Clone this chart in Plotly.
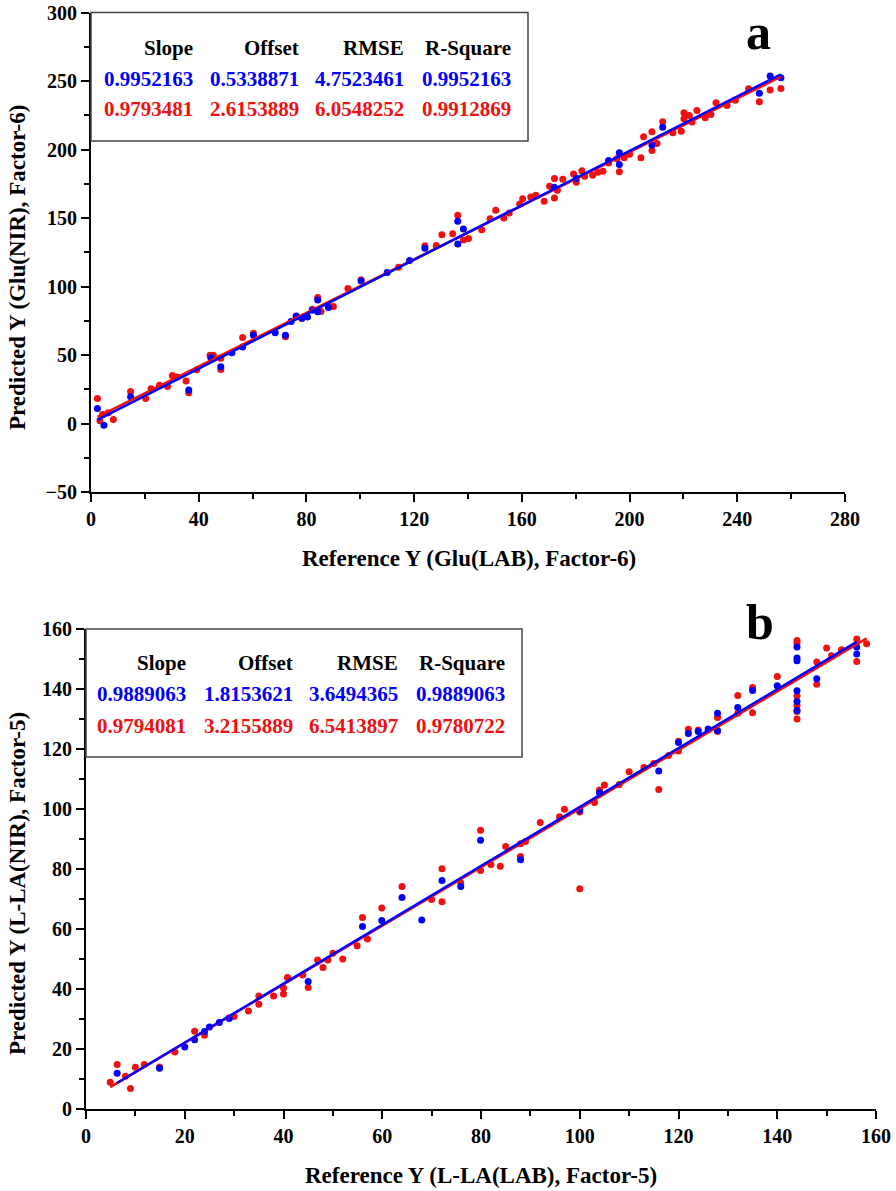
import numpy as np
import plotly.graph_objects as go

# ---------------- data: panel a (Glu) ----------------
a_red_x = [2.4, 3.3, 4.3, 6.4, 8.3, 14.7, 20.3, 22.3, 25.4, 28.4, 30.2, 32, 35.3, 36.3, 39.3, 44.2, 45.4, 48.2, 48.2,
           56.3, 60.3, 72.2, 76.2, 78.3, 82.2, 84.2, 85.4, 88.2, 90, 95.4, 100.3, 114.2, 124, 128.2, 130.3, 134.3,
           136.2, 138.3, 140.2, 145.1, 148.2, 150.3, 153.3, 155.3, 159.2, 160.3, 163.3, 165.2, 168.3, 170.3, 172.1,
           172.1, 173.2, 175.2, 179.2, 180.2, 182.3, 183.3, 186.3, 188.2, 190.1, 192.2, 195.3, 196.2, 198, 200,
           204.2, 205.2, 208.3, 208.3, 210.2, 212.3, 216.1, 219.2, 220.2, 220.2, 222.2, 223.2, 225, 228.1, 230.2,
           232.1, 236.2, 239.3, 244.2, 248.2, 252.2, 256.2]
a_red_y = [18.3, 2, 6.6, 7.8, 2.9, 23.4, 18.3, 25.4, 28, 27, 35, 34, 31, 22.4, 39.3, 49.8, 49.8, 39.5, 47.6,
           62.7, 65.9, 63.4, 78, 76.6, 83.4, 92, 81.7, 85.8, 85.4, 98.5, 105, 114, 129.8, 130, 137.8, 138.5,
           152, 134, 135, 141.5, 149.5, 155.6, 150, 153.7, 160.2, 164, 165.4, 166.6, 162.2, 173.2, 178.8,
           164.6, 170.2, 178.3, 182.2, 176.1, 184.4, 180.5, 181.2, 183.4, 184.1, 190.2, 193.2, 183.7, 194, 196.6,
           194, 209.3, 213, 199.3, 204.4, 220.2, 212.2, 213.4, 226.8, 222.4, 224.9, 220, 228.5, 223.2, 225.6,
           234.1, 232.2, 235.9, 244.4, 234.9, 243.4, 244.6]
a_blue_x = [2.4, 4.8, 14.7, 36.3, 44.5, 48.2, 52.3, 56.3, 60.3, 68.4, 72.2, 74.3, 76.2, 78.3, 80.4, 82.2, 84.2,
            84.2, 88.2, 100.3, 110, 118.3, 124, 136.2, 136.2, 138.3, 172, 180.2, 192.2, 196.2, 196.2, 208.3,
            212.3, 248.2, 252.2, 256.2]
a_blue_y = [11, -1.2, 19.5, 24.4, 48, 41.5, 51.7, 55.9, 64.4, 66.3, 64.4, 74.4, 78.5, 76.8, 77.8, 82.7, 90.2,
            81.5, 84.6, 104, 110.2, 119, 128, 147.6, 131, 142, 172.4, 178.8, 192, 197.6, 189, 203.2,
            216.3, 241, 253.7, 252.4]

# ---------------- data: panel b (L-LA) ----------------
b_red_x = [4.9, 6.3, 8, 9, 10, 11.8, 14.9, 18, 22, 24, 29, 30, 32.9, 35, 35, 38, 40, 40, 40.8, 43.9, 45, 46.9,
           48, 49, 50, 52, 54.9, 56, 57, 59.9, 64, 70, 72.1, 72.1, 75.9, 79.9, 79.9, 82, 83.9, 85, 88, 88, 89,
           92, 95.9, 96.9, 100, 100, 103, 104, 105, 108, 110, 113, 115, 116, 118, 120, 120, 122, 124, 127.9,
           127.9, 132, 132, 135, 135, 140, 144, 144, 144, 144, 144, 144, 148, 148, 150, 151, 153, 156.1, 156.1,
           158.1]
b_red_y = [8.9, 14.8, 10.9, 6.8, 13.9, 14.8, 14, 19, 25.9, 24.6, 30.4, 30.8, 32.7, 37.7, 34.9, 37.7, 40.3, 38.3,
           43.8, 44.7, 40.5, 49.7, 47.2, 49.7, 51.9, 50, 54.4, 63.8, 56.7, 67, 74.2, 69.8, 69.1, 80.1, 75.3, 92.9,
           79.5, 81.5, 80.9, 87.5, 84.2, 88.4, 89.2, 95.5, 97.4, 99.9, 99, 73.4, 102.2, 106.3, 108, 108.2, 112.4,
           113.8, 115.2, 106.5, 117.8, 119.3, 122.6, 126.6, 126.3, 130.5, 125.8, 137.8, 131.9, 140.5, 132.1,
           144.2, 156.2, 155.3, 137.7, 134.4, 132.5, 130, 141.6, 149, 153.7, 151.1, 153.1, 156.7, 149.2, 155.1]
b_blue_x = [6.3, 14.9, 20, 22, 24, 25, 27, 29, 45, 56, 59.9, 64, 68, 72.1, 75.9, 79.9, 88, 100, 104, 116, 120,
            122, 124, 126, 127.9, 127.9, 132, 135, 140, 144, 144, 144, 144, 144, 144, 148, 156.1, 156.1]
b_blue_y = [11.9, 13.6, 20.7, 23.1, 25.8, 27.3, 28.8, 30.2, 42.5, 60.8, 62.8, 70.5, 63, 76.2, 74.2, 89.6, 83.1,
            99.6, 105.4, 112.7, 122.2, 125.2, 125.8, 126.7, 131.9, 126.2, 133.8, 139.5, 141.1, 154, 150.3, 149.4,
            139.4, 135.8, 132.8, 143.4, 154, 151.7]

# ---------------- stats tables ----------------
stat_headers = ["Slope", "Offset", "RMSE", "R-Square"]
a_stats_blue = ["0.9952163", "0.5338871", "4.7523461", "0.9952163"]
a_stats_red = ["0.9793481", "2.6153889", "6.0548252", "0.9912869"]
b_stats_blue = ["0.9889063", "1.8153621", "3.6494365", "0.9889063"]
b_stats_red = ["0.9794081", "3.2155889", "6.5413897", "0.9780722"]

a_x_title = "Reference Y (Glu(LAB), Factor-6)"
a_y_title = "Predicted Y (Glu(NIR), Factor-6)"
b_x_title = "Reference Y (L-LA(LAB), Factor-5)"
b_y_title = "Predicted Y (L-LA(NIR), Factor-5)"

W, H = 896, 1191
FONT = "Liberation Serif"
RED = "#f01010"
BLUE = "#0000ff"


def px(x):
    return x / W


def py(y):
    return 1 - y / H


fig = go.Figure()


def fit_line(xs, ys):
    xs = np.asarray(xs, float)
    ys = np.asarray(ys, float)
    k, b = np.polyfit(xs, ys, 1)
    lx = np.array([xs.min(), xs.max()])
    return lx, k * lx + b


for (rx, ry, bx, by, xa, ya) in [
    (a_red_x, a_red_y, a_blue_x, a_blue_y, "x", "y"),
    (b_red_x, b_red_y, b_blue_x, b_blue_y, "x2", "y2"),
]:
    fig.add_trace(go.Scatter(x=rx, y=ry, mode="markers", marker=dict(color=RED, size=7),
                             xaxis=xa, yaxis=ya, showlegend=False))
    fig.add_trace(go.Scatter(x=bx, y=by, mode="markers", marker=dict(color=BLUE, size=7),
                             xaxis=xa, yaxis=ya, showlegend=False))
    lx, ly = fit_line(rx, ry)
    fig.add_trace(go.Scatter(x=lx, y=ly, mode="lines", line=dict(color=RED, width=2.5),
                             xaxis=xa, yaxis=ya, showlegend=False))
    lx, ly = fit_line(bx, by)
    fig.add_trace(go.Scatter(x=lx, y=ly, mode="lines", line=dict(color=BLUE, width=2.5),
                             xaxis=xa, yaxis=ya, showlegend=False))

tickfont = dict(family=FONT, size=20, color="black", weight="bold")
common = dict(showline=True, linecolor="black", linewidth=2, ticks="outside", ticklen=8, tickwidth=2,
              tickcolor="black", showgrid=False, zeroline=False, tickfont=tickfont, automargin=False)

fig.update_layout(
    width=W, height=H, margin=dict(l=0, r=0, t=0, b=0),
    paper_bgcolor="white", plot_bgcolor="white",
    xaxis=dict(domain=[px(91), px(845)], range=[0, 280], dtick=40, anchor="y",
               minor=dict(dtick=20, ticks="outside", ticklen=5, tickwidth=2, tickcolor="black"), **common),
    yaxis=dict(domain=[py(492), py(12.5)], range=[-50, 300], dtick=50, anchor="x",
               minor=dict(dtick=25, ticks="outside", ticklen=5, tickwidth=2, tickcolor="black"), **common),
    xaxis2=dict(domain=[px(86), px(876)], range=[0, 160], dtick=20, anchor="y2",
                minor=dict(dtick=10, ticks="outside", ticklen=5, tickwidth=2, tickcolor="black"), **common),
    yaxis2=dict(domain=[py(1109), py(629)], range=[0, 160], dtick=20, anchor="x2",
                minor=dict(dtick=10, ticks="outside", ticklen=5, tickwidth=2, tickcolor="black"), **common),
)

title_font = dict(family=FONT, size=23, color="black", weight="bold")
P = dict(xref="paper", yref="paper", showarrow=False)
C = dict(xanchor="center", yanchor="middle", **P)
ann = []
ann.append(dict(x=px(469), y=py(558), text=a_x_title, font=title_font, **C))
ann.append(dict(x=px(17), y=py(268), text=a_y_title, textangle=-90, font=title_font, **C))
ann.append(dict(x=px(481), y=py(1175), text=b_x_title, font=title_font, **C))
ann.append(dict(x=px(17), y=py(884), text=b_y_title, textangle=-90, font=title_font, **C))

letter_font = dict(family=FONT, size=50, color="black", weight="bold")
ann.append(dict(x=px(758), y=py(32), text="a", font=letter_font, bgcolor="white", **C))
ann.append(dict(x=px(760), y=py(622), text="b", font=letter_font, bgcolor="white", **C))

tab_font = 21


def add_table(col_right, rows_y, blue_vals, red_vals):
    for i in range(4):
        for txt, yy, col in [(stat_headers[i], rows_y[0], "black"),
                             (blue_vals[i], rows_y[1], BLUE),
                             (red_vals[i], rows_y[2], RED)]:
            ann.append(dict(x=px(col_right[i]), y=py(yy), text=txt, xanchor="right", yanchor="middle",
                            font=dict(family=FONT, size=tab_font, color=col, weight="bold"), **P))


add_table([195, 301, 406, 513], [48, 79, 109], a_stats_blue, a_stats_red)
add_table([188, 295, 400, 507], [663, 694, 726], b_stats_blue, b_stats_red)

fig.update_layout(annotations=ann)

fig.update_layout(shapes=[
    dict(type="rect", xref="paper", yref="paper", x0=px(91), x1=px(528), y0=py(141), y1=py(12.5),
         line=dict(color="#444444", width=1.5), fillcolor="rgba(0,0,0,0)"),
    dict(type="rect", xref="paper", yref="paper", x0=px(86), x1=px(522), y0=py(757), y1=py(629),
         line=dict(color="#444444", width=1.5), fillcolor="rgba(0,0,0,0)"),
])

fig.write_html("out.html", config={"displayModeBar": False},
               post_script="document.body.style.margin='0px';document.body.style.overflow='hidden';")
